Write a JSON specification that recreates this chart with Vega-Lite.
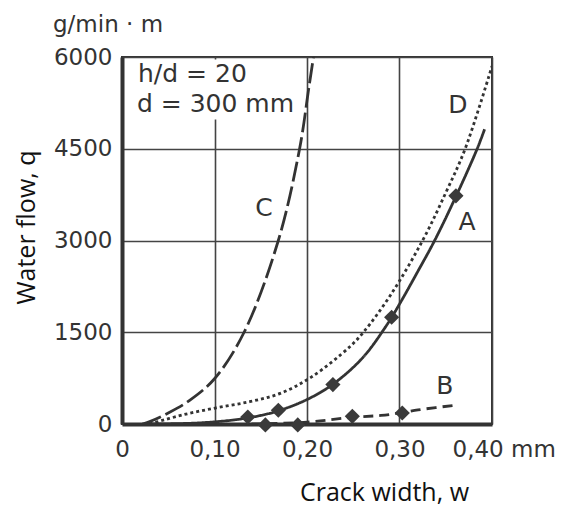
{
  "$schema": "https://vega.github.io/schema/vega-lite/v6.json",
  "width": 370,
  "height": 367,
  "autosize": {"type": "none"},
  "padding": {"left": 122, "top": 57, "right": 72, "bottom": 84},
  "background": "white",
  "config": {
    "view": {"stroke": "#333333", "strokeWidth": 2},
    "font": "DejaVu Sans"
  },
  "title": {
    "text": "g/min · m",
    "anchor": "start",
    "frame": "group",
    "font": "DejaVu Sans",
    "fontSize": 23,
    "fontWeight": "normal",
    "color": "#333333",
    "baseline": "alphabetic",
    "dx": -69,
    "offset": -9
  },
  "encoding": {
    "x": {
      "field": "w",
      "type": "quantitative",
      "scale": {"domain": [0, 0.4], "nice": false, "zero": false},
      "axis": {
        "values": [0, 0.1, 0.2, 0.3, 0.4],
        "title": "Crack width, w",
        "titleFont": "Open Sans",
        "titleFontSize": 25,
        "titleFontWeight": "normal",
        "titleColor": "#111111",
        "titleX": 262,
        "titleAnchor": "middle",
        "titlePadding": 19,
        "labelExpr": "datum.value == 0 ? '0' : (datum.value > 0.39 ? '0,40 mm' : replace(format(datum.value, '.2f'), '.', ','))",
        "labelAlign": {"condition": {"test": "datum.value > 0.39", "value": "left"}, "value": "center"},
        "labelOffset": {"condition": {"test": "datum.value > 0.39", "value": -40}, "value": 0},
        "labelFont": "DejaVu Sans",
        "labelFontSize": 23,
        "labelColor": "#333333",
        "labelPadding": 14,
        "labelOverlap": false,
        "labelFlush": false,
        "ticks": false,
        "domainColor": "#333333",
        "domainWidth": 4,
        "grid": true,
        "gridColor": "#444444",
        "gridWidth": 1.6
      }
    },
    "y": {
      "field": "q",
      "type": "quantitative",
      "scale": {"domain": [0, 6000], "nice": false},
      "axis": {
        "values": [0, 1500, 3000, 4500, 6000],
        "format": "d",
        "title": "Water flow, q",
        "titleFont": "Open Sans",
        "titleFontSize": 25,
        "titleFontWeight": "normal",
        "titleColor": "#111111",
        "titlePadding": 14,
        "titleY": 170,
        "labelFont": "DejaVu Sans",
        "labelFontSize": 23,
        "labelColor": "#333333",
        "labelPadding": 10,
        "labelOverlap": false,
        "labelFlush": false,
        "ticks": false,
        "domainColor": "#333333",
        "domainWidth": 4,
        "grid": true,
        "gridColor": "#444444",
        "gridWidth": 1.6
      }
    }
  },
  "layer": [
    {
      "data": {"values": [{"w": 0.004, "w2": 0.19, "q": 4980, "q2": 5960}]},
      "mark": {"type": "rect", "fill": "white"},
      "encoding": {
        "x2": {"field": "w2"},
        "y2": {"field": "q2"}
      }
    },
    {
      "data": {
        "values": [
          {"series": "A", "w": 0.03, "q": 0},
          {"series": "A", "w": 0.08, "q": 15},
          {"series": "A", "w": 0.12, "q": 65},
          {"series": "A", "w": 0.15, "q": 140},
          {"series": "A", "w": 0.17, "q": 220},
          {"series": "A", "w": 0.2, "q": 400},
          {"series": "A", "w": 0.228, "q": 650},
          {"series": "A", "w": 0.26, "q": 1080},
          {"series": "A", "w": 0.285, "q": 1590},
          {"series": "A", "w": 0.3, "q": 1960},
          {"series": "A", "w": 0.32, "q": 2500},
          {"series": "A", "w": 0.338, "q": 3000},
          {"series": "A", "w": 0.361, "q": 3720},
          {"series": "A", "w": 0.384, "q": 4500},
          {"series": "A", "w": 0.392, "q": 4820},
          {"series": "B", "w": 0.14, "q": 0},
          {"series": "B", "w": 0.2, "q": 30},
          {"series": "B", "w": 0.249, "q": 110},
          {"series": "B", "w": 0.28, "q": 140},
          {"series": "B", "w": 0.303, "q": 185},
          {"series": "B", "w": 0.32, "q": 230},
          {"series": "B", "w": 0.362, "q": 310},
          {"series": "C", "w": 0.022, "q": 0},
          {"series": "C", "w": 0.03, "q": 40},
          {"series": "C", "w": 0.05, "q": 180},
          {"series": "C", "w": 0.0735, "q": 390},
          {"series": "C", "w": 0.1, "q": 740},
          {"series": "C", "w": 0.132, "q": 1500},
          {"series": "C", "w": 0.169, "q": 3000},
          {"series": "C", "w": 0.192, "q": 4500},
          {"series": "C", "w": 0.202, "q": 5500},
          {"series": "C", "w": 0.207, "q": 6000},
          {"series": "D", "w": 0.03, "q": 0},
          {"series": "D", "w": 0.066, "q": 150},
          {"series": "D", "w": 0.102, "q": 265},
          {"series": "D", "w": 0.138, "q": 365},
          {"series": "D", "w": 0.171, "q": 500},
          {"series": "D", "w": 0.205, "q": 770},
          {"series": "D", "w": 0.246, "q": 1260},
          {"series": "D", "w": 0.261, "q": 1500},
          {"series": "D", "w": 0.29, "q": 2100},
          {"series": "D", "w": 0.325, "q": 3000},
          {"series": "D", "w": 0.35, "q": 3780},
          {"series": "D", "w": 0.371, "q": 4500},
          {"series": "D", "w": 0.4, "q": 5850}
        ]
      },
      "mark": {"type": "line", "interpolate": "catmull-rom", "strokeWidth": 2.8, "color": "#333333", "clip": true},
      "encoding": {
        "detail": {"field": "series"},
        "strokeDash": {
          "field": "series",
          "type": "nominal",
          "scale": {"domain": ["A", "B", "C", "D"], "range": [[1, 0], [10, 6], [20, 5], [3, 3]]},
          "legend": null
        }
      }
    },
    {
      "data": {
        "values": [
          {"w": 0.136, "q": 115},
          {"w": 0.155, "q": -15},
          {"w": 0.169, "q": 225},
          {"w": 0.19, "q": -15},
          {"w": 0.228, "q": 645},
          {"w": 0.249, "q": 125},
          {"w": 0.2915, "q": 1745},
          {"w": 0.303, "q": 180},
          {"w": 0.361, "q": 3730}
        ]
      },
      "mark": {"type": "point", "shape": "diamond", "filled": true, "size": 230, "color": "#3a3a3a", "opacity": 1}
    },
    {
      "data": {
        "values": [
          {"label": "h/d = 20", "w": 0.0173, "q": 5591},
          {"label": "d = 300 mm", "w": 0.0162, "q": 5101}
        ]
      },
      "mark": {"type": "text", "align": "left", "baseline": "alphabetic", "font": "DejaVu Sans", "fontSize": 25, "color": "#333333"},
      "encoding": {
        "text": {"field": "label"}
      }
    },
    {
      "data": {
        "values": [
          {"label": "C", "w": 0.1535, "q": 3531},
          {"label": "D", "w": 0.363, "q": 5215},
          {"label": "A", "w": 0.373, "q": 3302},
          {"label": "B", "w": 0.349, "q": 628}
        ]
      },
      "mark": {"type": "text", "align": "center", "baseline": "middle", "font": "DejaVu Sans", "fontSize": 25, "color": "#333333"},
      "encoding": {
        "text": {"field": "label"}
      }
    }
  ]
}
